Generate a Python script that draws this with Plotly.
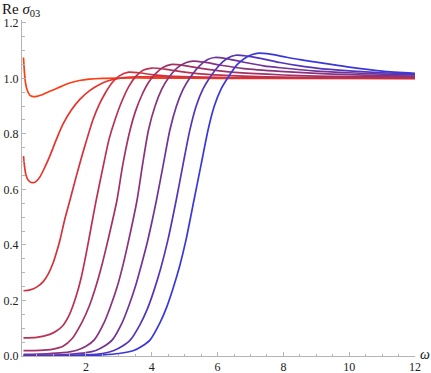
import plotly.graph_objects as go

# Re sigma_03 vs omega, nine curves (red -> blue)
w1 = [0.1, 0.13, 0.16, 0.2, 0.26, 0.33, 0.4, 0.5, 0.65, 0.8, 1.0, 1.25, 1.5, 1.8, 2.1, 2.5, 3.0, 4.0, 6.0, 12.0]
s1 = [1.075, 1.02, 0.985, 0.962, 0.945, 0.936, 0.934, 0.935, 0.94, 0.948, 0.958, 0.971, 0.983, 0.992, 0.997, 1.0, 1.001, 1.001, 1.0, 1.0]

w2 = [0.1, 0.13, 0.17, 0.22, 0.3, 0.38, 0.48, 0.6, 0.75, 0.9, 1.1, 1.3, 1.55, 1.82, 2.1, 2.4, 2.7, 3.0, 3.5, 4.2, 5.5, 7.0, 12.0]
s2 = [0.72, 0.685, 0.655, 0.638, 0.627, 0.624, 0.628, 0.645, 0.68, 0.72, 0.78, 0.835, 0.885, 0.925, 0.955, 0.977, 0.992, 1.0, 1.005, 1.005, 1.003, 1.001, 1.0]

w3 = [0.1, 0.3, 0.5, 0.7, 0.85, 1.0, 1.1, 1.21, 1.35, 1.51, 1.7, 1.9, 2.05, 2.21, 2.4, 2.6, 2.8, 3.0, 3.3, 3.6, 4.0, 4.5, 5.5, 7.0, 12.0]
s3 = [0.235, 0.238, 0.248, 0.268, 0.295, 0.335, 0.372, 0.418, 0.49, 0.56, 0.645, 0.73, 0.79, 0.85, 0.905, 0.95, 0.985, 1.008, 1.022, 1.02, 1.013, 1.008, 1.004, 1.002, 1.0]

w4 = [0.1, 0.5, 0.9, 1.1, 1.3, 1.5, 1.7, 1.85, 2.0, 2.15, 2.3, 2.5, 2.7, 2.88, 3.1, 3.3, 3.5, 3.75, 4.0, 4.4, 5.0, 5.8, 7.0, 8.0, 10.0, 12.0]
s4 = [0.065, 0.067, 0.078, 0.09, 0.11, 0.15, 0.215, 0.28, 0.365, 0.46, 0.555, 0.67, 0.78, 0.85, 0.92, 0.97, 1.005, 1.03, 1.037, 1.033, 1.022, 1.013, 1.007, 1.004, 1.002, 1.001]

w5 = [0.1, 0.6, 1.0, 1.3, 1.58, 1.88, 2.1, 2.3, 2.5, 2.67, 2.94, 3.12, 3.34, 3.5, 3.7, 3.9, 4.1, 4.35, 4.62, 5.0, 5.5, 6.2, 7.0, 8.0, 9.0, 10.0, 12.0]
s5 = [0.019, 0.02, 0.025, 0.035, 0.063, 0.122, 0.18, 0.25, 0.335, 0.418, 0.56, 0.69, 0.814, 0.88, 0.94, 0.985, 1.015, 1.04, 1.05, 1.046, 1.036, 1.025, 1.018, 1.012, 1.008, 1.006, 1.004]

w6 = [0.1, 0.8, 1.3, 1.7, 2.0, 2.25, 2.55, 2.75, 2.95, 3.13, 3.3, 3.55, 3.72, 3.9, 4.1, 4.3, 4.5, 4.8, 5.05, 5.25, 5.6, 6.1, 6.8, 7.9, 9.0, 10.0, 11.0, 12.0]
s6 = [0.006, 0.008, 0.012, 0.02, 0.035, 0.058, 0.12, 0.18, 0.25, 0.33, 0.418, 0.56, 0.69, 0.814, 0.9, 0.96, 1.0, 1.04, 1.057, 1.062, 1.058, 1.047, 1.035, 1.025, 1.018, 1.013, 1.01, 1.008]

w7 = [0.1, 1.0, 1.5, 2.0, 2.3, 2.55, 2.8, 3.1, 3.3, 3.5, 3.7, 3.88, 4.14, 4.35, 4.55, 4.75, 4.95, 5.15, 5.45, 5.7, 5.92, 6.3, 6.8, 7.4, 7.9, 9.0, 10.0, 11.0, 12.0]
s7 = [0.002, 0.003, 0.006, 0.012, 0.02, 0.035, 0.058, 0.12, 0.18, 0.25, 0.335, 0.418, 0.56, 0.69, 0.814, 0.9, 0.96, 1.0, 1.045, 1.068, 1.075, 1.07, 1.058, 1.045, 1.038, 1.026, 1.02, 1.015, 1.012]

w8 = [0.1, 1.0, 2.0, 2.5, 2.85, 3.1, 3.35, 3.65, 3.85, 4.05, 4.27, 4.49, 4.74, 4.95, 5.15, 5.35, 5.55, 5.75, 6.0, 6.3, 6.55, 6.9, 7.3, 7.9, 8.5, 9.0, 10.0, 11.0, 12.0]
s8 = [0.0005, 0.001, 0.004, 0.009, 0.02, 0.035, 0.058, 0.115, 0.165, 0.23, 0.315, 0.418, 0.56, 0.69, 0.81, 0.9, 0.96, 1.0, 1.04, 1.072, 1.083, 1.08, 1.072, 1.057, 1.045, 1.037, 1.027, 1.02, 1.015]

w9 = [0.1, 1.0, 2.0, 2.5, 3.0, 3.45, 3.7, 3.95, 4.25, 4.45, 4.65, 4.85, 5.04, 5.28, 5.5, 5.71, 5.9, 6.1, 6.3, 6.6, 6.9, 7.2, 7.6, 8.0, 8.5, 9.0, 9.5, 10.0, 11.0, 12.0]
s9 = [0.0, 0.0, 0.002, 0.004, 0.009, 0.02, 0.035, 0.058, 0.12, 0.175, 0.245, 0.325, 0.418, 0.56, 0.69, 0.814, 0.9, 0.96, 1.0, 1.05, 1.078, 1.09, 1.087, 1.078, 1.067, 1.058, 1.049, 1.04, 1.026, 1.018]

omegas = [w1, w2, w3, w4, w5, w6, w7, w8, w9]
sigmas = [s1, s2, s3, s4, s5, s6, s7, s8, s9]
colors = ["#ff3d12", "#e8342a", "#d2323f", "#bb3152", "#a23266", "#89327e", "#703398", "#5435b8", "#3a38dc"]

x_ticks = [2, 4, 6, 8, 10, 12]
y_ticks = [0.0, 0.2, 0.4, 0.6, 0.8, 1.0, 1.2]

fig = go.Figure()
for w, s, c in zip(omegas, sigmas, colors):
    fig.add_trace(go.Scatter(x=w, y=s, mode="lines",
                             line=dict(color=c, width=1.7, shape="spline", smoothing=0.7),
                             hoverinfo="skip", showlegend=False))

serif = "Liberation Serif"
axis_font = dict(family=serif, size=12, color="#222")
fig.update_layout(
    width=431, height=373,
    margin=dict(l=22, r=16, t=20, b=17, autoexpand=False),
    font=dict(family=serif),
    paper_bgcolor="white", plot_bgcolor="white",
    xaxis=dict(range=[0.055, 12], tickvals=x_ticks, ticktext=[str(v) for v in x_ticks],
               automargin=False,
               showgrid=False, zeroline=False, showline=True, linecolor="#b4b4b4", linewidth=1,
               ticks="inside", ticklen=4, tickcolor="#b4b4b4", tickfont=axis_font,
               minor=dict(dtick=0.5, tick0=0, ticks="inside", ticklen=2.5, tickcolor="#b4b4b4")),
    yaxis=dict(range=[0, 1.21], tickvals=y_ticks, ticktext=["%.1f" % v for v in y_ticks],
               automargin=False,
               showgrid=False, zeroline=False, showline=True, linecolor="#b4b4b4", linewidth=1,
               ticks="inside", ticklen=4, tickcolor="#b4b4b4", tickfont=axis_font,
               minor=dict(dtick=0.05, tick0=0, ticks="inside", ticklen=2.5, tickcolor="#b4b4b4")),
    annotations=[
        dict(text="Re <i>σ</i><sub>03</sub>", xref="paper", yref="paper",
             x=-22 / 393, y=(356 - 10) / 336, xanchor="left", yanchor="middle",
             showarrow=False, font=dict(family=serif, size=15, color="#111")),
        dict(text="<i>ω</i>", xref="paper", yref="paper",
             x=(425 - 22) / 393, y=(356 - 354) / 336, xanchor="center", yanchor="middle",
             showarrow=False, font=dict(family=serif, size=14, color="#111")),
    ],
)

fig.write_html("out.html", config={"displayModeBar": False},
               post_script="document.body.style.margin='0';document.body.style.overflow='hidden';")
